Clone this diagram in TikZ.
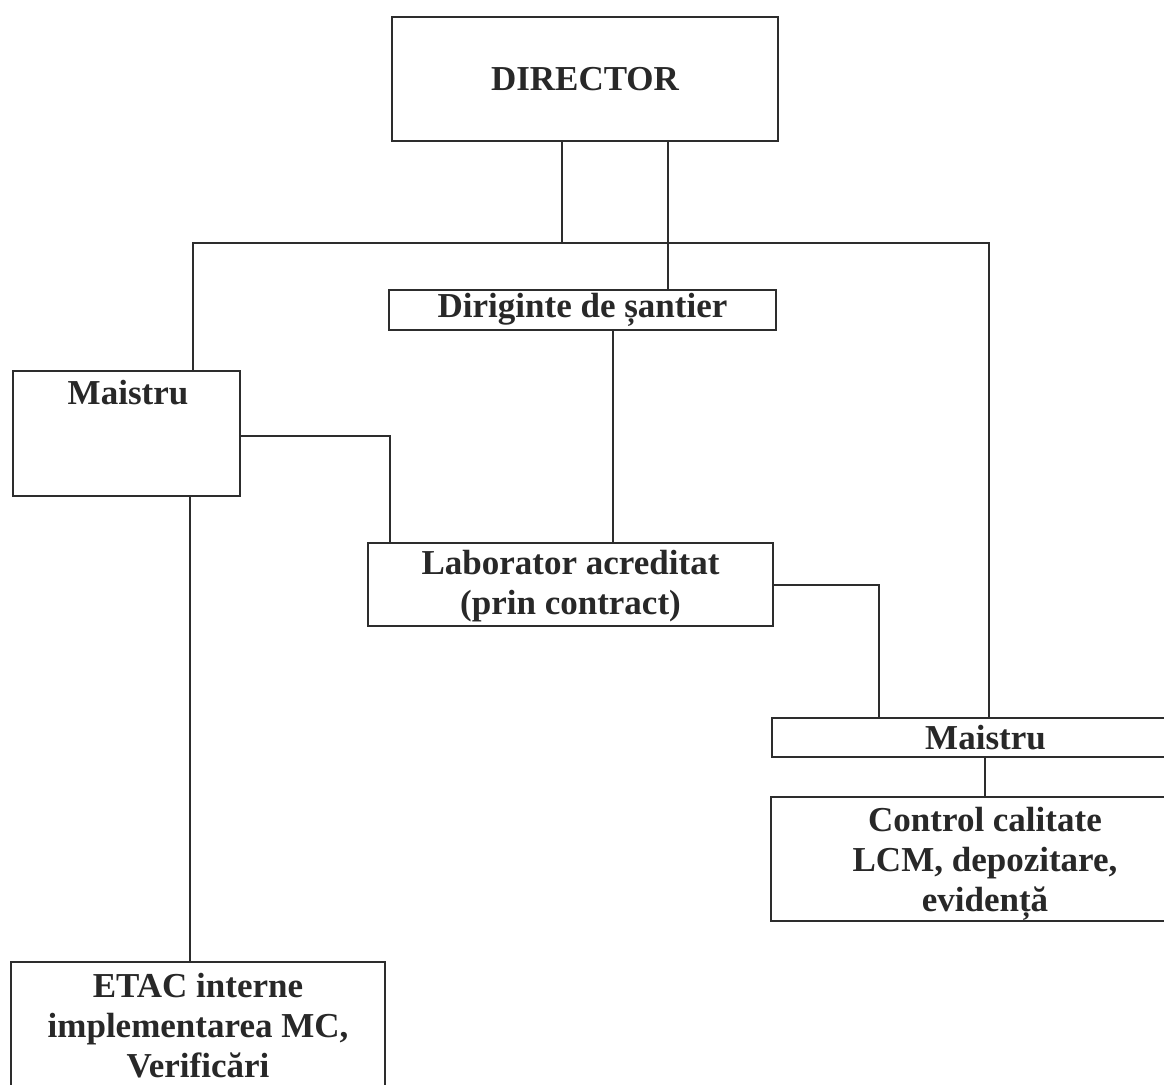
\documentclass[tikz,border=0pt]{standalone}
\usepackage{fontspec}
\setmainfont{Liberation Serif}
\begin{document}
\begin{tikzpicture}[x=1pt,y=-1pt,
  box/.style={draw=linec, line width=1.3pt, rectangle, inner sep=0pt, align=center,
    font=\bfseries\fontsize{35}{40}\selectfont, text=textc},
  link/.style={draw=linec, line width=1.1pt},
  lbl/.style={inner sep=0pt, align=center, font=\bfseries\fontsize{35}{40}\selectfont, text=textc}]
\definecolor{linec}{RGB}{45,45,45}
\definecolor{textc}{RGB}{40,40,40}
\useasboundingbox (0,0) rectangle (1164,1084);
\clip (0,0) rectangle (1164,1084);
\fill[white] (0,0) rectangle (1164,1084);

\node[box, minimum width=386pt, minimum height=124pt] (dir) at (585,79) {DIRECTOR};
\node[box, minimum width=387pt, minimum height=40pt] (dirig) at (582.5,310) {Diriginte de șantier};
\node[box, minimum width=227pt, minimum height=125pt] (m1) at (126.5,433.5) {};
\node[lbl] (m1t) at (128,393) {Maistru};
\node[box, minimum width=405pt, minimum height=83pt] (lab) at (570.5,584.5) {};
\node[lbl] (labt) at (570.5,586) {Laborator acreditat\\(prin contract)};
\node[box, minimum width=427pt, minimum height=39pt] (m2) at (985.5,737.5) {Maistru};
\node[box, minimum width=428pt, minimum height=124pt] (cc) at (985,859) {};
\node[lbl] (cct) at (985,864) {Control calitate\\LCM, depozitare,\\evidență};
\node[box, minimum width=374pt, minimum height=128pt] (etac) at (198,1026) {ETAC interne\\implementarea MC,\\Verificări};

\coordinate (busL) at (193,243);
\coordinate (busM) at (562,243);
\coordinate (busR) at (989,243);
\coordinate (dd) at (668,0);
\coordinate (dl) at (613,0);
\coordinate (ml) at (390,436);
\coordinate (lm) at (879,585);
\coordinate (mc) at (985,0);
\coordinate (me) at (190,0);

\draw[link] (dir.south -| busM) -- (busM);
\draw[link] (m1.north -| busL) -- (busL) -- (busR) -- (m2.north -| busR);
\draw[link] (dir.south -| dd) -- (dirig.north -| dd);
\draw[link] (dirig.south -| dl) -- (lab.north -| dl);
\draw[link] (m1.east |- ml) -- (ml) -- (lab.north -| ml);
\draw[link] (m1.south -| me) -- (etac.north -| me);
\draw[link] (lab.east |- lm) -- (lm) -- (m2.north -| lm);
\draw[link] (m2.south -| mc) -- (cc.north -| mc);
\end{tikzpicture}
\end{document}
